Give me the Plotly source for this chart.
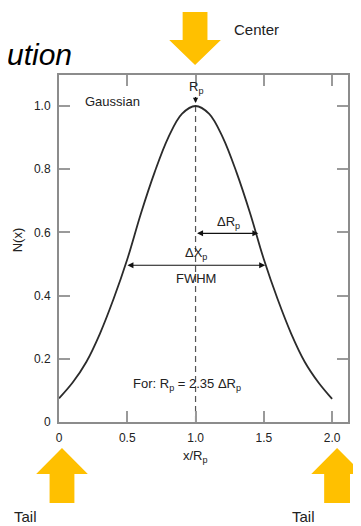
import plotly.graph_objects as go

# ---------------- data ----------------
x_over_rp = [0.0, 0.1, 0.2, 0.3, 0.4, 0.5, 0.6, 0.7, 0.8, 0.9, 1.0,
             1.1, 1.2, 1.3, 1.4, 1.5, 1.6, 1.7, 1.8, 1.9, 2.0]
n_x = [0.075, 0.125, 0.19, 0.28, 0.39, 0.515, 0.66, 0.79, 0.90, 0.975, 1.0,
       0.975, 0.90, 0.79, 0.66, 0.515, 0.39, 0.28, 0.19, 0.125, 0.073]

x_tick_vals = [0, 0.5, 1.0, 1.5, 2.0]
x_tick_text = ["0", "0.5", "1.0", "1.5", "2.0"]
y_tick_vals = [0, 0.2, 0.4, 0.6, 0.8, 1.0]
y_tick_text = ["0", "0.2", "0.4", "0.6", "0.8", "1.0"]

rp_center = 1.0
peak_value = 1.0
fwhm_level = 0.496
fwhm_bounds = [0.49, 1.51]
delta_rp_level = 0.597
delta_rp_bounds = [1.0, 1.46]

# ---------------- layout helpers ----------------
# page is 361x526; the browser body adds an 8px margin, so the figure is
# made 8px smaller and every page coordinate is shifted by 8px.
PAGE_W, PAGE_H = 361, 526
OFF = 8
W, H = PAGE_W - OFF, PAGE_H - OFF
PL, PR, PT, PB = 59, 350, 75, 422          # plot area in page pixels
ML, MT = PL - OFF, PT - OFF
MR, MB = W - (PR - OFF), H - (PB - OFF)
PW, PH = PR - PL, PB - PT


def px(p):
    return (p - PL) / PW


def py(p):
    return (PB - p) / PH


YELLOW = "#FFC000"
AX_COL = "#8c8c8c"
TXT = "#222222"
FONT = "Arial, Liberation Sans, sans-serif"

fig = go.Figure()

# dashed center line
fig.add_trace(go.Scatter(
    x=[rp_center, rp_center], y=[0, peak_value], mode="lines",
    line=dict(color="#555555", width=1.2, dash="6px,4px"),
    hoverinfo="skip", showlegend=False))

# gaussian curve
fig.add_trace(go.Scatter(
    x=x_over_rp, y=n_x, mode="lines",
    line=dict(color="#2b2b2b", width=1.8, shape="spline", smoothing=1.0),
    showlegend=False))


def block_arrow(tip_x, tip_y, head_half, shaft_half, head_h, shaft_end, down):
    s = 1 if down else -1
    base = tip_y - s * head_h
    pts = [
        (tip_x - shaft_half, shaft_end), (tip_x + shaft_half, shaft_end),
        (tip_x + shaft_half, base), (tip_x + head_half, base),
        (tip_x, tip_y), (tip_x - head_half, base),
        (tip_x - shaft_half, base),
    ]
    return "M " + " L ".join(f"{px(a):.4f},{py(b):.4f}" for a, b in pts) + " Z"


shapes = [
    dict(type="path", xref="paper", yref="paper",
         path=block_arrow(196, 65, 26, 12.5, 25, 12, True),
         fillcolor=YELLOW, line=dict(width=0), layer="above"),
    dict(type="path", xref="paper", yref="paper",
         path=block_arrow(62, 448, 26, 12.5, 26, 503, False),
         fillcolor=YELLOW, line=dict(width=0), layer="above"),
    dict(type="path", xref="paper", yref="paper",
         path=block_arrow(339, 448, 26, 13, 26, 503, False),
         fillcolor=YELLOW, line=dict(width=0), layer="above"),
]

annotations = [
    # title fragment
    dict(text="<i>ution</i>", xref="paper", yref="paper", x=px(74), y=py(54),
         xanchor="right", yanchor="middle", showarrow=False,
         font=dict(family=FONT, size=30, color="#000000")),
    dict(text="Center", xref="paper", yref="paper", x=px(258), y=py(30),
         xanchor="center", yanchor="middle", showarrow=False,
         font=dict(family=FONT, size=15, color=TXT)),
    dict(text="Tail", xref="paper", yref="paper", x=px(25), y=py(517),
         xanchor="center", yanchor="middle", showarrow=False,
         font=dict(family=FONT, size=15, color=TXT)),
    dict(text="Tail", xref="paper", yref="paper", x=px(305), y=py(517),
         xanchor="center", yanchor="middle", showarrow=False,
         font=dict(family=FONT, size=15, color=TXT)),
    # axis titles
    dict(text="N(x)", xref="paper", yref="paper", x=px(17), y=py(240),
         xanchor="center", yanchor="middle", textangle=-90, showarrow=False,
         font=dict(family=FONT, size=13, color=TXT)),
    dict(text="x/R<sub>p</sub>", xref="x", yref="paper", x=rp_center, y=py(456),
         xanchor="center", yanchor="middle", showarrow=False,
         font=dict(family=FONT, size=13, color=TXT)),
    # in-plot texts
    dict(text="Gaussian", xref="paper", yref="paper", x=px(83), y=py(101),
         xanchor="left", yanchor="middle", showarrow=False,
         font=dict(family=FONT, size=13, color=TXT)),
    dict(text="For: R<sub>p</sub> = 2.35 ΔR<sub>p</sub>", xref="paper", yref="paper",
         x=px(188), y=py(384), xanchor="center", yanchor="middle", showarrow=False,
         font=dict(family=FONT, size=13, color=TXT)),
    dict(text="ΔR<sub>p</sub>", xref="x", yref="paper",
         x=(delta_rp_bounds[0] + delta_rp_bounds[1]) / 2 + 0.01, y=py(222),
         xanchor="center", yanchor="middle", showarrow=False,
         font=dict(family=FONT, size=13, color=TXT)),
    dict(text="ΔX<sub>p</sub>", xref="x", yref="paper", x=rp_center, y=py(254),
         xanchor="center", yanchor="middle", showarrow=False,
         font=dict(family=FONT, size=13, color=TXT)),
    dict(text="FWHM", xref="x", yref="paper", x=rp_center, y=py(278),
         xanchor="center", yanchor="middle", showarrow=False,
         font=dict(family=FONT, size=13, color=TXT)),
    # Rp marker arrow
    dict(text="R<sub>p</sub>", xref="x", yref="y", x=rp_center, y=peak_value,
         ax=0, ay=-19, showarrow=True, arrowhead=2, arrowsize=0.8,
         arrowwidth=1.3, arrowcolor="#111111", standoff=3,
         font=dict(family=FONT, size=13, color=TXT)),
    # FWHM double arrow
    dict(text="", xref="x", yref="y", axref="x", ayref="y",
         x=fwhm_bounds[1], y=fwhm_level, ax=fwhm_bounds[0], ay=fwhm_level,
         showarrow=True, arrowhead=2, arrowside="end+start", arrowsize=1.0,
         arrowwidth=1.2, arrowcolor="#111111"),
    # delta Rp double arrow
    dict(text="", xref="x", yref="y", axref="x", ayref="y",
         x=delta_rp_bounds[1], y=delta_rp_level, ax=delta_rp_bounds[0], ay=delta_rp_level,
         showarrow=True, arrowhead=2, arrowside="end+start", arrowsize=1.0,
         arrowwidth=1.2, arrowcolor="#111111"),
]

axis_common = dict(
    showline=True, linecolor=AX_COL, linewidth=2, mirror="ticks",
    ticks="inside", ticklen=11, tickwidth=1.5, tickcolor="#9a9a9a",
    showgrid=False, zeroline=False,
    tickfont=dict(family=FONT, size=12, color="#222222"),
)

fig.update_layout(
    width=W, height=H,
    margin=dict(l=ML, r=MR, t=MT, b=MB, pad=0),
    paper_bgcolor="white", plot_bgcolor="white",
    xaxis=dict(range=[0, PW / 137.5], tickvals=x_tick_vals,
               ticktext=x_tick_text, ticklabelstandoff=4, **axis_common),
    yaxis=dict(range=[0, PH / 316], tickvals=y_tick_vals,
               ticktext=y_tick_text, ticklabelstandoff=4, **axis_common),
    shapes=shapes,
    annotations=annotations,
    showlegend=False,
)

fig.write_html("out.html", config={"displayModeBar": False})
